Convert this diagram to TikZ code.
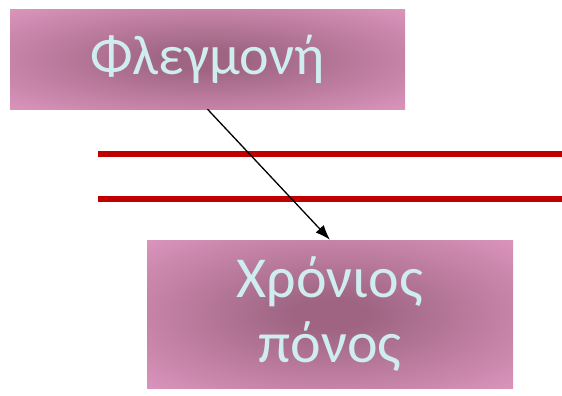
\documentclass[tikz,border=0pt]{standalone}
\usepackage{fontspec}
\setmainfont{Carlito}
\usetikzlibrary{arrows.meta}
\usetikzlibrary{positioning}

\definecolor{boxpink}{HTML}{EFA5D0}
\definecolor{boxmauve}{HTML}{9E6482}
\definecolor{textice}{HTML}{CFEDEE}
\definecolor{barred}{HTML}{C00000}

\pgfdeclareradialshading{boxglow}{\pgfpoint{0bp}{0bp}}{%
  color(0bp)=(boxmauve); color(5bp)=(boxmauve);
  color(46bp)=(boxpink); color(75bp)=(boxpink)}

\tikzset{
  pinkbox/.style={rectangle, shading=boxglow, text=textice, align=center},
  redbar/.style={barred, line width=6.5pt}
}

\begin{document}
\begin{tikzpicture}[x=1pt, y=-1pt]

\useasboundingbox (0,0) rectangle (562,396);

\node[pinkbox, minimum width=395pt, minimum height=99pt,
      font=\fontsize{56}{60}\selectfont] at (207.5, 59.5) (flegm) {Φλεγμονή};
\node[pinkbox, minimum width=366pt, minimum height=148pt,
      font=\fontsize{58}{65}\selectfont] at (330, 314) (xronios)
    {Χρόνιος\\πόνος};

\draw[redbar] (98, 154) -- (562, 154);
\draw[redbar] (98, 199) -- (562, 199);

\draw[-{Latex[length=15pt,width=11pt]}, line width=1.3pt] 
    (flegm.south) -- (xronios.north);
\end{tikzpicture}
\end{document}
